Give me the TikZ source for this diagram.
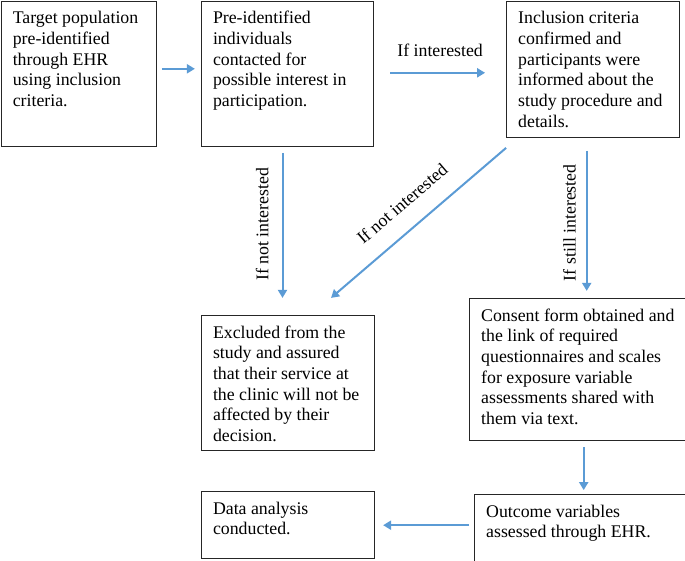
\documentclass[tikz,border=0pt]{standalone}
\usepackage{fontspec}
\setmainfont{Liberation Serif}
\usetikzlibrary{positioning}
\usetikzlibrary{arrows.meta}
\definecolor{flowblue}{RGB}{91,155,213}
\newcommand{\boxtext}[3]{\parbox[c][#2][t]{#1}{\raggedright #3}}

\tikzset{
  stepbox/.style={rectangle, draw=black!85, line width=1.2pt, inner xsep=11.5pt, inner ysep=10pt, font=\fontsize{17.8}{20.7}\selectfont},
  flow/.style={-{Triangle[length=8pt,width=9pt]}, draw=flowblue, line width=2pt},
  lbl/.style={font=\fontsize{17.8}{20.7}\selectfont, inner xsep=0pt}
}

\begin{document}
\begin{tikzpicture}
      \useasboundingbox (0,0) rectangle (685pt,-561pt);
      \node[stepbox, anchor=north west] (target) at (0.7pt,-0.7pt) {\boxtext{132pt}{125pt}{Target population\\ pre-identified\\ through EHR\\ using inclusion\\ criteria.}} ;
      \node[stepbox, right=44pt of target] (preid) {\boxtext{149pt}{125pt}{Pre-identified\\ individuals\\ contacted for\\ possible interest in\\ participation.}} ;
      \node[stepbox, right=132pt of preid.north east, anchor=north west] (incl) {\boxtext{150pt}{116pt}{Inclusion criteria\\ confirmed and\\ participants were\\ informed about the\\ study procedure and\\ details.}} ;
      \node[stepbox, below=168pt of preid.south west, anchor=north west] (excl) {\boxtext{150pt}{115pt}{Excluded from the\\ study and assured\\ that their service at\\ the clinic will not be\\ affected by their\\ decision.}} ;
      \node[stepbox, below=160pt of incl.south west, anchor=north west, xshift=-37pt] (consent) {\boxtext{194pt}{122pt}{Consent form obtained and\\ the link of required\\ questionnaires and scales\\ for exposure variable\\ assessments shared with\\ them via text.}} ;
      \node[stepbox, below=53pt of consent.south east, anchor=north east] (outcome) {\boxtext{189pt}{48pt}{Outcome variables\\ assessed through EHR.}} ;
      \node[stepbox, below=40pt of excl.south west, anchor=north west] (data) {\boxtext{150pt}{47pt}{Data analysis\\ conducted.}} ;
      \draw [flow, shorten <=5pt, shorten >=6pt] ([yshift=5pt]target.east) -- ([yshift=5pt]preid.west) ;
      \draw [flow, shorten <=16pt, shorten >=21pt] ([yshift=1pt]preid.east) -- ([yshift=1pt]preid.east -| incl.west)
            node[midway, lbl, anchor=south, inner ysep=15pt] {If interested} ;
      \draw [flow, shorten <=6pt, shorten >=17pt] ([xshift=-5pt]preid.south) -- ([xshift=-5pt]preid.south |- excl.north)
            node[pos=0.46, lbl, rotate=90, anchor=south, inner ysep=13pt] {If not interested} ;
      \draw [flow] ([yshift=-10pt]incl.south west) -- ([xshift=43pt, yshift=17pt]excl.north)
            node[midway, lbl, sloped, anchor=south, inner ysep=18pt] {If not interested} ;
      \draw [flow, shorten <=13pt, shorten >=7pt] ([xshift=-6.5pt]incl.south) -- ([xshift=-6.5pt]incl.south |- consent.north)
            node[pos=0.53, lbl, rotate=90, anchor=south, inner ysep=10pt] {If still interested} ;
      \draw [flow, shorten <=6pt, shorten >=4pt] ([xshift=5.5pt]consent.south) -- ([xshift=5.5pt]consent.south |- outcome.north) ;
      \draw [flow, shorten <=5pt, shorten >=8pt] (outcome.west |- data.east) -- (data.east) ;
    \end{tikzpicture}
\end{document}
